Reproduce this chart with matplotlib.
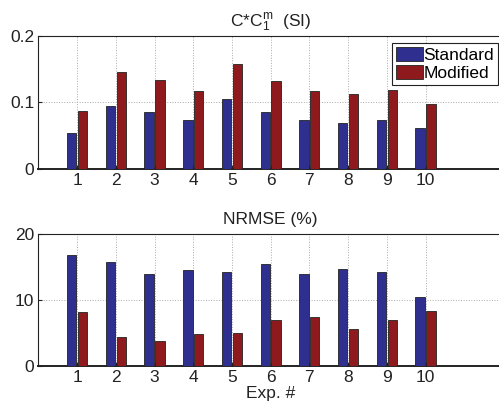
import matplotlib
matplotlib.use("Agg")
import matplotlib.pyplot as plt
import numpy as np

plt.rcParams["font.family"] = ["Liberation Sans", "DejaVu Sans"]
plt.rcParams["mathtext.fontset"] = "custom"
plt.rcParams["mathtext.rm"] = "Liberation Sans"
plt.rcParams["mathtext.it"] = "Liberation Sans"

# ── Daten ────────────────────────────────────────────────────────────────────
experiments = [1, 2, 3, 4, 5, 6, 7, 8, 9, 10]
cc_standard = [0.054, 0.095, 0.086, 0.074, 0.105, 0.086, 0.074, 0.069, 0.074, 0.061]
cc_modified = [0.087, 0.146, 0.134, 0.118, 0.158, 0.133, 0.118, 0.112, 0.119, 0.098]
nrmse_standard = [16.8, 15.8, 14.0, 14.6, 14.3, 15.5, 13.9, 14.7, 14.2, 10.5]
nrmse_modified = [8.15, 4.35, 3.7, 4.76, 4.9, 6.9, 7.44, 5.6, 7.0, 8.25]

BLUE = "#2f2f8f"
RED = "#8f1a1e"
FS = 12.5

fig = plt.figure(figsize=(4.99, 4.05), dpi=100, facecolor="white")
ax1 = fig.add_axes([0.077, 0.583, 0.931, 0.328])
ax2 = fig.add_axes([0.077, 0.097, 0.931, 0.325])

x = np.array(experiments)
w = 0.24
off = 0.14


def style(ax, ylim, yticks):
    ax.set_xlim(0, 12)
    ax.set_ylim(*ylim)
    ax.set_xticks(experiments)
    ax.set_yticks(yticks)
    ax.tick_params(direction="in", length=3, labelsize=FS, colors="#222222", pad=3)
    ax.grid(True, color="#aaaaaa", linestyle=":", linewidth=0.7)
    ax.set_axisbelow(True)
    for s in ax.spines.values():
        s.set_color("#222222")
        s.set_linewidth(0.8)
    ax.spines["bottom"].set_linewidth(1.4)


# ── oben: C*C1^m ─────────────────────────────────────────────────────────────
ax1.bar(x - off, cc_standard, width=w, color=BLUE, edgecolor="#222222",
        linewidth=0.6, label="Standard", zorder=3)
ax1.bar(x + off, cc_modified, width=w, color=RED, edgecolor="#222222",
        linewidth=0.6, label="Modified", zorder=3)
style(ax1, (0, 0.2), [0, 0.1, 0.2])
ax1.set_yticklabels(["0", "0.1", "0.2"])
ax1.set_title(r"C*C$_1^{\mathrm{m}}$  (SI)", fontsize=FS, pad=7, color="#222222")
leg = ax1.legend(loc="upper right", bbox_to_anchor=(0.99, 0.95), fontsize=FS,
                 fancybox=False, framealpha=1, edgecolor="#222222",
                 borderaxespad=0, handlelength=1.5, handleheight=0.9,
                 handletextpad=0.05, borderpad=0.25, labelspacing=0.1)
leg.get_frame().set_linewidth(0.8)

# ── unten: NRMSE ─────────────────────────────────────────────────────────────
ax2.bar(x - off, nrmse_standard, width=w, color=BLUE, edgecolor="#222222",
        linewidth=0.6, zorder=3)
ax2.bar(x + off, nrmse_modified, width=w, color=RED, edgecolor="#222222",
        linewidth=0.6, zorder=3)
style(ax2, (0, 20), [0, 10, 20])
ax2.set_title("NRMSE (%)", fontsize=FS, pad=7, color="#222222")
ax2.set_xlabel("Exp. #", fontsize=FS, labelpad=1, color="#222222")

fig.savefig("out.png", dpi=100, facecolor="white")
